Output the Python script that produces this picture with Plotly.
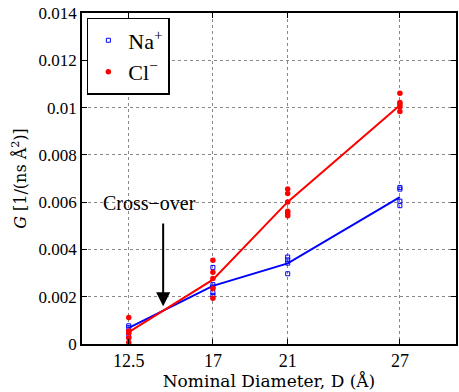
import plotly.graph_objects as go

# Data
diam = [12.5, 17, 21, 27]
tick_labels_x = ["12.5", "17", "21", "27"]
y_ticks = [0, 0.002, 0.004, 0.006, 0.008, 0.01, 0.012, 0.014]
y_tick_labels = ["0", "0.002", "0.004", "0.006", "0.008", "0.01", "0.012", "0.014"]

na_x = [12.5, 12.5, 12.5, 12.5,
        17, 17, 17, 17, 17,
        21, 21, 21, 21,
        27, 27, 27, 27]
na_y = [0.00077, 0.00069, 0.00052, 0.00031,
        0.00324, 0.00251, 0.00241, 0.00218, 0.00206,
        0.00368, 0.00356, 0.00342, 0.00297,
        0.00662, 0.00655, 0.00604, 0.00585]

cl_x = [12.5, 12.5, 12.5, 12.5, 12.5,
        17, 17, 17, 17, 17,
        21, 21, 21, 21, 21, 21,
        27, 27, 27, 27, 27]
cl_y = [0.00112, 0.00055, 0.00047, 0.00025, 0.00006,
        0.00354, 0.00303, 0.00277, 0.00235, 0.00193,
        0.00656, 0.00637, 0.00601, 0.00562, 0.00552, 0.00542,
        0.01061, 0.01021, 0.01014, 0.01004, 0.00983]

na_mean = [0.00068, 0.00246, 0.00341, 0.00621]
cl_mean = [0.00050, 0.00272, 0.00601, 0.01010]

BLUE = "#0000ff"
RED = "#ff0000"
SERIF = "Liberation Serif, Times New Roman, serif"
SERIF2 = "DejaVu Serif, serif"

fig = go.Figure()
fig.add_trace(go.Scatter(x=diam, y=na_mean, mode="lines", line=dict(color=BLUE, width=2),
                         showlegend=False, hoverinfo="skip"))
fig.add_trace(go.Scatter(x=diam, y=cl_mean, mode="lines", line=dict(color=RED, width=2),
                         showlegend=False, hoverinfo="skip"))
fig.add_trace(go.Scatter(x=na_x, y=na_y, mode="markers", name="Na<sup>+</sup>",
                         marker=dict(symbol="square-open", size=4, color=BLUE, line=dict(width=1, color=BLUE))))
fig.add_trace(go.Scatter(x=cl_x, y=cl_y, mode="markers", name="Cl<sup>−</sup>",
                         marker=dict(symbol="circle", size=5.5, color=RED)))

# Cross-over annotation
fig.add_annotation(x=13.6, y=0.00596, text="Cross−over", showarrow=False,
                   font=dict(family=SERIF, size=20, color="black"))
fig.add_annotation(x=14.34, y=0.0016, ax=14.34, ay=0.00516, axref="x", ayref="y",
                   text="", showarrow=True, arrowhead=2, arrowwidth=2, arrowsize=1.4,
                   arrowcolor="black")

fig.update_layout(
    width=459, height=392,
    margin=dict(l=82, r=1, t=13, b=48),
    paper_bgcolor="white", plot_bgcolor="white",
    font=dict(family=SERIF, size=17, color="black"),
    legend=dict(x=0.013, y=0.985, xanchor="left", yanchor="top",
                bgcolor="white", bordercolor="black", borderwidth=1.5,
                font=dict(family=SERIF, size=22, color="black"),
                tracegroupgap=0, itemwidth=30),
)
fig.update_xaxes(range=[10, 30], tickvals=diam, ticktext=tick_labels_x,
                 showgrid=True, gridcolor="#888888", griddash="dot", gridwidth=1,
                 showline=True, linecolor="black", linewidth=1.5, mirror="ticks",
                 ticks="inside", ticklen=5, tickcolor="black", zeroline=False,
                 tickfont=dict(family=SERIF, size=18),
                 title=dict(text="Nominal Diameter, D (Å)", standoff=2,
                            font=dict(family=SERIF2, size=17)))
fig.update_yaxes(range=[0, 0.014], tickvals=y_ticks, ticktext=y_tick_labels,
                 showgrid=True, gridcolor="#888888", griddash="dot", gridwidth=1,
                 showline=True, linecolor="black", linewidth=1.5, mirror="ticks",
                 ticks="inside", ticklen=5, tickcolor="black", zeroline=False,
                 tickfont=dict(family=SERIF, size=17),
                 title=dict(text="<i>G</i> [1/(ns Å<sup>2</sup>)]", standoff=8,
                            font=dict(family=SERIF2, size=16)))

fig.write_html("out.html")
